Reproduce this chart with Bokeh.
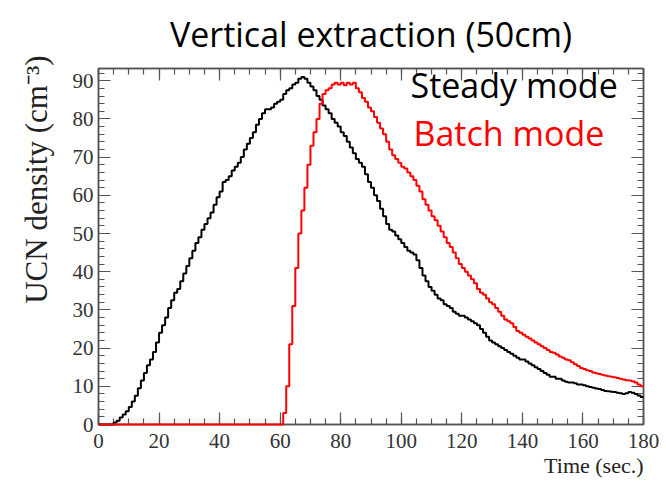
import math
from bokeh.plotting import figure
from bokeh.models import Label, LinearAxis, Range1d, FixedTicker, Title
from bokeh.embed import file_html
from bokeh.resources import INLINE

# ---- data (1-second bins, 0..180 s) ----
time_edges = list(range(0, 181))

steady_mode = [
    0, 0, 0, 0, 0, 0.5, 1, 1.8, 2.6, 3.5,
    4.6, 6, 7.5, 9.5, 11.5, 13.5, 15.5, 17, 19, 21.5,
    24, 26, 28, 30.5, 32.5, 34.5, 35.5, 37.5, 39.5, 41.5,
    43.5, 45.5, 47.5, 49, 51, 52.5, 54, 55.5, 57.5, 59.5,
    61, 63.5, 64, 65, 66.5, 67.5, 68.5, 70, 72, 73.5,
    75, 76.5, 78.5, 80, 81.5, 82.5, 82.5, 83, 84, 84.5,
    85, 86.5, 87.5, 88, 89, 89.5, 90.5, 91, 90.5, 89.5,
    88.5, 87.5, 86, 85, 83.5, 82.5, 81.5, 80, 79, 78,
    76.5, 75.5, 74, 72.5, 71, 69.5, 68.5, 67.5, 65.5, 63.5,
    62, 60, 58.5, 56.5, 54.5, 52.5, 51, 50.5, 49.5, 48.5,
    47.5, 46.5, 45.5, 45, 44.5, 43, 41, 39, 37.5, 36,
    35, 34, 33, 32.5, 31.5, 31, 30.5, 29.5, 29, 28.5,
    28.5, 28, 27.5, 27, 26.5, 26, 25, 24, 23, 22,
    21.5, 21, 20.5, 20, 19.5, 19, 18.5, 18, 17.5, 17,
    17, 16.5, 16, 15.5, 15, 14.5, 14, 13.5, 13, 12.5,
    12.5, 12, 12, 11.5, 11.2, 11, 11, 10.8, 10.5, 10.5,
    10.3, 10, 9.8, 9.6, 9.4, 9.3, 9, 8.8, 8.7, 8.6,
    8.5, 8.3, 8.2, 8, 8.2, 8.5, 8.3, 8, 7.6, 7.2,
]

batch_mode = [0] * 61 + [
    3, 10, 21, 31, 41, 50, 56, 62, 68,
    73, 76.5, 80, 84, 86.5, 87.5, 88, 89, 89.5, 89,
    89.5, 88.8, 89.5, 89, 89.5, 88, 87, 85.5, 84.5, 83,
    82, 80.5, 79, 77.5, 76, 74, 72, 70.5, 69.5, 68.5,
    67.5, 67, 66, 65, 64, 62.5, 61, 59, 57.5, 56,
    54.5, 53.5, 52, 50.5, 49, 47.5, 46.5, 45, 43.5, 42,
    41, 40, 39, 38, 37, 35.5, 34.5, 34, 33, 32,
    31.5, 30.5, 29.5, 28.5, 27.5, 27, 26.5, 25.5, 24.5, 24,
    23.5, 23, 22.5, 22, 21.5, 21, 20.5, 20, 19.5, 19,
    18.8, 18.3, 17.8, 17.5, 17, 16.8, 16.3, 15.8, 15.3, 14.8,
    14.5, 14.2, 14, 13.6, 13.4, 13.2, 13, 12.8, 12.6, 12.5,
    12.4, 12.2, 12, 11.8, 11.6, 11.5, 11.3, 11, 10.5, 10,
]

x_ticks = [0, 20, 40, 60, 80, 100, 120, 140, 160, 180]
y_ticks = [0, 10, 20, 30, 40, 50, 60, 70, 80, 90]

title_text = "Vertical extraction (50cm)"
x_label = "Time (sec.)"
y_label = "UCN density (cm\u207b\u00b3)"
legend_labels = ["Steady mode", "Batch mode"]

# ---- figure ----
p = figure(width=666, height=483, output_backend="svg", toolbar_location=None,
           x_range=Range1d(0, 180), y_range=Range1d(0, 93.2),
           x_axis_type=None, y_axis_type=None,
           min_border_left=98, min_border_right=23,
           min_border_top=63, min_border_bottom=59)
p.background_fill_color = "white"
p.border_fill_color = "white"
p.outline_line_color = "#555555"
p.outline_line_width = 1.5
p.xgrid.visible = False
p.ygrid.visible = False

axis_color = "#555555"

def style_axis(ax, labels=True):
    ax.axis_line_color = axis_color
    ax.axis_line_width = 1.5
    ax.major_tick_line_color = axis_color
    ax.minor_tick_line_color = axis_color
    ax.major_tick_line_width = 1.2
    ax.minor_tick_line_width = 1.2
    ax.major_tick_in = 12
    ax.major_tick_out = 0
    ax.minor_tick_in = 6
    ax.minor_tick_out = 0
    ax.major_label_text_font = "Liberation Serif"
    ax.major_label_text_font_size = "21px"
    ax.major_label_text_color = "#333333"
    if not labels:
        ax.major_label_text_font_size = "0px"
        ax.major_label_text_alpha = 0

xt = FixedTicker(ticks=x_ticks, minor_ticks=list(range(0, 181, 5)))
yt = FixedTicker(ticks=y_ticks, minor_ticks=[v for v in range(0, 94, 2)])

for loc, lab in (("below", True), ("above", False)):
    ax = LinearAxis(ticker=xt)
    style_axis(ax, lab)
    if lab:
        ax.major_label_standoff = 9
    p.add_layout(ax, loc)
for loc, lab in (("left", True), ("right", False)):
    ax = LinearAxis(ticker=yt)
    style_axis(ax, lab)
    if lab:
        ax.major_label_standoff = 5
    p.add_layout(ax, loc)

steady_y = steady_mode + [steady_mode[-1]]
batch_y = batch_mode + [batch_mode[-1]]
p.step(time_edges, steady_y, mode="after", line_color="black", line_width=2, level="overlay")
p.step(time_edges, batch_y, mode="after", line_color="#ff0000", line_width=2, level="overlay")

# ---- texts ----
p.add_layout(Title(text=title_text, align="center", text_font="Open Sans",
                   text_font_size="34px", text_font_style="normal",
                   text_line_height=0.75,
                   text_color="black", standoff=20, vertical_align="top"), "above")
p.add_layout(Title(text=x_label, align="right", text_font="Liberation Serif",
                   text_font_size="22px", text_font_style="normal",
                   text_color="#222222", standoff=0), "below")
p.add_layout(Title(text=y_label, align="right", text_font="Liberation Serif",
                   text_font_size="31px", text_font_style="normal",
                   text_color="#222222", standoff=32, offset=-13), "left")

p.add_layout(Label(x=312, y=361 - (97 - 63) + 13, x_units="screen", y_units="screen",
                   text=legend_labels[0], text_font="Open Sans", text_font_size="34px",
                   text_color="black", text_align="left", text_baseline="alphabetic"))
p.add_layout(Label(x=315, y=361 - (145 - 63) + 13, x_units="screen", y_units="screen",
                   text=legend_labels[1], text_font="Open Sans", text_font_size="34px",
                   text_color="#ff0000", text_align="left", text_baseline="alphabetic"))

open("out.html", "w").write(file_html(p, INLINE))
